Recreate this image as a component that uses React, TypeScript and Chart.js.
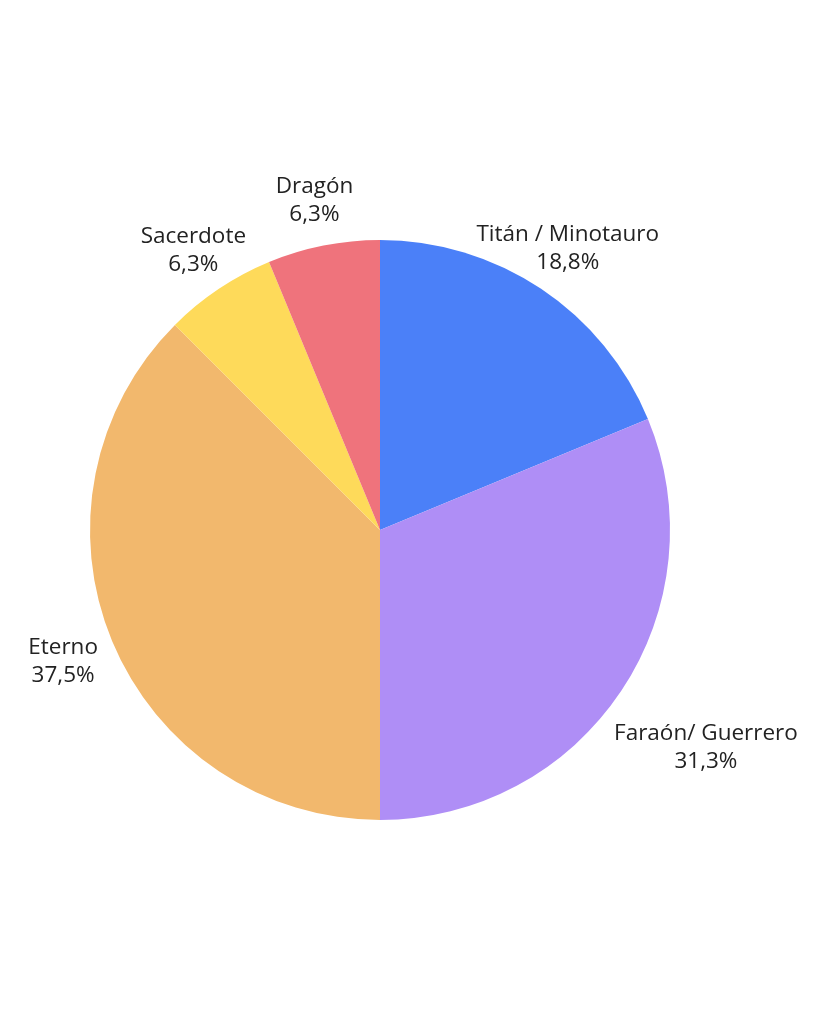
import React, { useEffect, useRef } from "react";
import { Chart, registerables } from "chart.js";

Chart.register(...registerables);

const categories = ["Titán / Minotauro", "Faraón/ Guerrero", "Eterno", "Sacerdote", "Dragón"];
const counts = [3, 5, 6, 1, 1];
const percentLabels = ["18,8%", "31,3%", "37,5%", "6,3%", "6,3%"];
const colors = ["#4B80F8", "#AF8EF6", "#F2B86D", "#FEDA5A", "#EF737C"];

const FONT = "22.5px 'Open Sans'";
// extra radial push per label (style tweak)
const labelPush = [0, 54, 5, -2, -2];

const outerLabels = {
  id: "outerLabels",
  afterDraw(chart: any) {
    const ctx = chart.ctx;
    const meta = chart.getDatasetMeta(0);
    ctx.save();
    ctx.font = FONT;
    ctx.fillStyle = "#222222";
    ctx.textAlign = "center";
    ctx.textBaseline = "middle";
    const lineH = 28;
    meta.data.forEach((arc: any, i: number) => {
      const p = arc.getProps(["x", "y", "startAngle", "endAngle", "outerRadius"], true);
      const mid = (p.startAngle + p.endAngle) / 2;
      const dx = Math.cos(mid);
      const dy = Math.sin(mid);
      const lines = [categories[i], percentLabels[i]];
      const dist = p.outerRadius + 48 + (labelPush[i] || 0);
      const cx = p.x + dx * dist;
      const cy = p.y + dy * dist;
      lines.forEach((l, k) => {
        ctx.fillText(l, cx, cy + (k - (lines.length - 1) / 2) * lineH);
      });
    });
    ctx.restore();
  },
};

export default function App() {
  const ref = useRef<HTMLCanvasElement | null>(null);
  useEffect(() => {
    if (!ref.current) return;
    const chart = new Chart(ref.current, {
      type: "pie",
      data: {
        labels: categories,
        datasets: [
          {
            data: counts,
            backgroundColor: colors,
            borderWidth: 0,
          },
        ],
      },
      options: {
        animation: false,
        responsive: true,
        maintainAspectRatio: false,
        layout: { padding: { left: 82, right: 141, top: 232, bottom: 196 } },
        plugins: {
          legend: { display: false },
          tooltip: { enabled: false },
        },
      },
      plugins: [outerLabels],
    });
    return () => chart.destroy();
  }, []);
  return (
    <div style={{ width: 803, height: 1008, position: "relative" }}>
      <canvas ref={ref} />
    </div>
  );
}
